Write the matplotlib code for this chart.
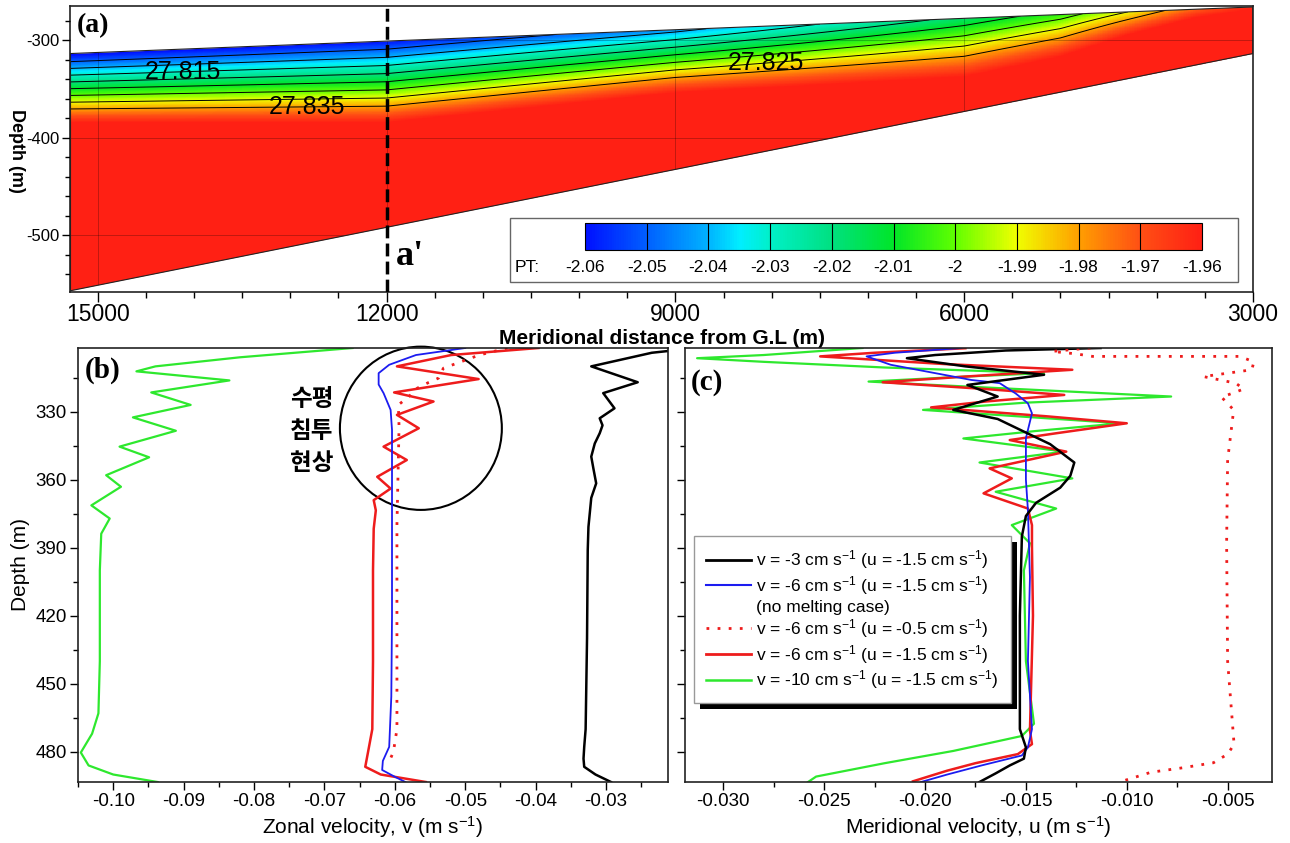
import numpy as np
import matplotlib
matplotlib.use("Agg")
import matplotlib.pyplot as plt
from matplotlib.colors import LinearSegmentedColormap, Normalize
from matplotlib.cm import ScalarMappable
from matplotlib.patches import Polygon, Rectangle, Ellipse
from matplotlib.lines import Line2D
from matplotlib.transforms import IdentityTransform
from matplotlib.ticker import MultipleLocator, FormatStrFormatter

plt.rcParams['font.family'] = ['Liberation Sans', 'DejaVu Sans']
plt.rcParams['axes.unicode_minus'] = False
plt.rcParams['mathtext.default'] = 'regular'

# ---------------- data: panel (a) ----------------
ice_x = [3000, 15284]          # along-section distance (m), increasing
ice_top = [-266.0, -313.7]     # ice shelf base
ice_bed = [-313.7, -556.7]     # sea floor

knot_x = [3000, 3600, 4300, 5000, 6000, 9000, 12000, 15284]
knot_ttop = [-1.962, -1.972, -1.990, -2.005, -2.017, -2.043, -2.060, -2.062]
knot_h = [4, 10, 25, 45, 62, 66, 85, 72]
pt_warm = -1.958

pt_levels = [-2.06, -2.05, -2.04, -2.03, -2.02, -2.01, -2.00, -1.99, -1.98, -1.97, -1.96]
line_levels = [-2.05, -2.04, -2.03, -2.02, -2.01, -2.00, -1.99, -1.98]
dens_text = ['27.815', '27.835', '27.825']
dens_x = [14121, 12830, 8064]
dens_z = [-332.5, -368.4, -323.9]

# ---------------- data: panel (b) zonal velocity ----------------
b_black_d = [303, 304, 310, 317, 321.8, 328.5, 332.9, 336, 339.5, 344, 349.8, 355, 361.6, 368,
             380.8, 391, 430, 470, 477.8, 483, 486.6, 490, 493.3]
b_black_v = [-0.0205, -0.0235, -0.0321, -0.0255, -0.0304, -0.0288, -0.0309, -0.0305, -0.0309,
             -0.0316, -0.0321, -0.0318, -0.0314, -0.0321, -0.0325, -0.0326, -0.0327, -0.0329,
             -0.0331, -0.0332, -0.0331, -0.0315, -0.0293]
b_blue_d = [301.9, 305, 309.3, 313, 318, 321.8, 329.2, 338, 367, 420, 455.6, 477.8, 484, 488, 491, 493.3]
b_blue_v = [-0.0500, -0.0570, -0.0608, -0.0623, -0.0623, -0.0616, -0.0606, -0.0604, -0.0604, -0.0604,
            -0.0605, -0.0608, -0.0617, -0.0618, -0.0600, -0.0585]
b_dot_d = [301.9, 305, 310.8, 315.2, 317.1, 319.6, 323.3, 327, 336.6, 380, 440, 470, 480, 485]
b_dot_v = [-0.0440, -0.0480, -0.0531, -0.0538, -0.0552, -0.0568, -0.0580, -0.0595, -0.0594, -0.0597,
           -0.0597, -0.0597, -0.0602, -0.0609]
b_red_d = [301.9, 305, 310, 315.6, 321.5, 325.5, 331.4, 337.3, 345.4, 351.3, 358.7, 363.9, 369, 373.5,
           381.6, 400, 440, 470, 480, 486.6, 490, 493.3]
b_red_v = [-0.0396, -0.0520, -0.0597, -0.0481, -0.0601, -0.0545, -0.0597, -0.0566, -0.0616, -0.0583,
           -0.0625, -0.0606, -0.0630, -0.0627, -0.0630, -0.0631, -0.0631, -0.0632, -0.0638, -0.0642,
           -0.0620, -0.0556]
b_green_d = [301.9, 306, 310, 312.2, 316.2, 321.5, 327, 332.5, 338.4, 345.4, 350.1, 358, 363.1, 371.3,
             377.1, 383.8, 400, 440, 463, 472, 480.3, 486, 490, 493.3]
b_green_v = [-0.0660, -0.0820, -0.0940, -0.0967, -0.0835, -0.0946, -0.0890, -0.0972, -0.0911, -0.0991,
             -0.0949, -0.1010, -0.0989, -0.1031, -0.1005, -0.1017, -0.1019, -0.1019, -0.1021, -0.1030,
             -0.1046, -0.1035, -0.1000, -0.0937]

# ---------------- data: panel (c) meridional velocity ----------------
c_black_d = [301.9, 303, 305, 306.4, 310, 313.7, 318.2, 323.3, 329.2, 333.2, 339.2, 344.3, 352.4, 358.3,
             363.5, 370.2, 376, 385, 420, 470, 478, 483, 486, 489.5, 493.3]
c_black_u = [-0.0113, -0.0160, -0.0195, -0.0209, -0.0180, -0.0141, -0.0179, -0.0164, -0.0186, -0.0164,
             -0.0150, -0.0138, -0.0126, -0.0128, -0.0133, -0.0145, -0.0150, -0.0152, -0.0153, -0.0153,
             -0.0150, -0.0151, -0.0158, -0.0165, -0.0173]
c_blue_d = [301.9, 304, 305.6, 309.3, 316, 317.4, 322, 326.3, 330.7, 341.7, 360, 373.5, 403, 440, 470,
            478, 481.6, 486, 490, 493.3]
c_blue_u = [-0.0182, -0.0215, -0.0229, -0.0217, -0.0177, -0.0163, -0.0155, -0.0149, -0.0147, -0.0150,
            -0.0150, -0.0149, -0.0148, -0.0149, -0.0147, -0.0149, -0.0152, -0.0172, -0.0189, -0.0202]
c_dot_d = [301.9, 303.4, 304.5, 305.6, 305.6, 305.6, 308, 311.5, 314.5, 317.4, 320, 323.6, 329.2, 351.3,
           388, 440, 476.7, 481, 484.8, 487, 489, 492.6]
c_dot_u = [-0.0118, -0.0137, -0.0125, -0.0117, -0.0080, -0.0044, -0.0037, -0.0038, -0.0062, -0.0046,
           -0.0042, -0.0053, -0.0047, -0.0050, -0.00505, -0.0050, -0.00468, -0.0050, -0.0057, -0.0072,
           -0.0088, -0.0101]
c_red_d = [302, 304, 305.6, 309, 311.5, 314.5, 317, 320, 322.6, 325.5, 328.1, 332, 335.1, 339.5, 342.5,
           347.6, 355, 359.4, 366, 372.7, 380, 389.4, 420, 470.6, 476.6, 481, 485, 488.3, 493]
c_red_u = [-0.0180, -0.0225, -0.0252, -0.0190, -0.0127, -0.0180, -0.0221, -0.0170, -0.0131, -0.0170,
           -0.0197, -0.0140, -0.0100, -0.0135, -0.0158, -0.0130, -0.0168, -0.0157, -0.0171, -0.0149,
           -0.0147, -0.0147, -0.01465, -0.0148, -0.0147, -0.0154, -0.0175, -0.0189, -0.0206]
c_green_d = [301.9, 305, 306.4, 308, 310.5, 313, 314.5, 316.7, 318, 323.3, 326, 329.2, 335.1, 338.5,
             341.8, 347.6, 352.4, 359.4, 365.3, 372.7, 380, 388, 400, 440, 467.6, 473, 479.6, 485, 490.9,
             493.3]
c_green_u = [-0.0231, -0.0280, -0.0313, -0.0280, -0.0220, -0.0141, -0.0180, -0.0228, -0.0200, -0.0078,
             -0.0150, -0.0201, -0.0103, -0.0145, -0.0181, -0.0131, -0.0173, -0.0127, -0.0165, -0.0135,
             -0.0157, -0.0148, -0.0151, -0.0150, -0.0146, -0.0152, -0.0186, -0.0220, -0.0254, -0.0258]

legend_labels = [r'v = -3 cm s$^{-1}$ (u = -1.5 cm s$^{-1}$)',
                 r'v = -6 cm s$^{-1}$ (u = -1.5 cm s$^{-1}$)',
                 '(no melting case)',
                 r'v = -6 cm s$^{-1}$ (u = -0.5 cm s$^{-1}$)',
                 r'v = -6 cm s$^{-1}$ (u = -1.5 cm s$^{-1}$)',
                 r'v = -10 cm s$^{-1}$ (u = -1.5 cm s$^{-1}$)']

GREEN = '#2ee82e'
RED = '#ee1c1c'
BLUE = '#1c1cf0'
serif = ['Liberation Serif', 'DejaVu Serif']

fig = plt.figure(figsize=(12.9, 8.43), dpi=100)
ax_a = fig.add_axes([0.05465, 0.65362, 0.91667, 0.33927])
ax_b = fig.add_axes([0.06047, 0.07236, 0.45736, 0.51483])
ax_c = fig.add_axes([0.53101, 0.07236, 0.45504, 0.51483])

# ---------------- panel (a) ----------------
cmap = LinearSegmentedColormap.from_list('pt', [
    (0.0, '#0010ff'), (0.1, '#0060ff'), (0.2, '#00b4ff'), (0.25, '#00eeff'),
    (0.3, '#00f0c8'), (0.4, '#00e080'), (0.5, '#00e628'), (0.6, '#60ff00'),
    (0.7, '#f0ff00'), (0.8, '#ffa000'), (0.9, '#ff5014'), (1.0, '#ff2014')])
norm = Normalize(vmin=-2.06, vmax=-1.96)

xg = np.linspace(3000, 15284, 700)
zg = np.linspace(-560, -262, 500)
X, Z = np.meshgrid(xg, zg)
ztop = np.interp(X, ice_x, ice_top)
zbot = np.interp(X, ice_x, ice_bed)
ttop = np.interp(X, knot_x, knot_ttop)
hh = np.interp(X, knot_x, knot_h)
s = np.clip((ztop - Z) / hh, 0, 1)
PT = ttop + (pt_warm - ttop) * s
PT = np.ma.masked_where((Z > ztop + 1) | (Z < zbot - 1), PT)

dom = Polygon([(ice_x[0], ice_top[0]), (ice_x[1], ice_top[1]),
               (ice_x[1], ice_bed[1]), (ice_x[0], ice_bed[0])],
              closed=True, fill=False, edgecolor='#222222', lw=0.8, zorder=3)
ax_a.add_patch(dom)
mesh = ax_a.pcolormesh(X, Z, PT, cmap=cmap, norm=norm, shading='auto', zorder=1)
mesh.set_clip_path(dom)
cs = ax_a.contour(X, Z, PT, levels=line_levels, colors='k', linewidths=0.7,
                  linestyles='solid', zorder=2)
cs.set_clip_path(dom)

ax_a.set_xlim(15284, 3000)
ax_a.set_ylim(-558, -265)
ax_a.xaxis.set_major_locator(MultipleLocator(3000))
ax_a.xaxis.set_minor_locator(MultipleLocator(500))
ax_a.xaxis.set_major_formatter(FormatStrFormatter('%d'))
ax_a.yaxis.set_major_locator(MultipleLocator(100))
ax_a.yaxis.set_minor_locator(MultipleLocator(20))
ax_a.yaxis.set_major_formatter(FormatStrFormatter('%d'))
ax_a.tick_params(axis='x', which='major', direction='out', length=7, width=1, labelsize=16.5, pad=1)
ax_a.tick_params(axis='x', which='minor', direction='out', length=4, width=1)
ax_a.tick_params(axis='y', which='major', direction='out', length=6, width=1, labelsize=12, pad=2)
ax_a.tick_params(axis='y', which='minor', direction='out', length=3.5, width=1)
ax_a.grid(True, which='major', color='k', lw=0.5, alpha=0.35, zorder=2)
for gl in ax_a.get_xgridlines() + ax_a.get_ygridlines():
    gl.set_clip_path(dom)
ax_a.set_axisbelow(False)
ax_a.set_xlabel('Meridional distance from G.L (m)', fontsize=15, fontweight='bold', labelpad=2)
fig.text(16 / 1290, 1 - 151 / 843, 'Depth (m)', rotation=270, ha='center', va='center',
         fontsize=13, fontweight='bold')

ax_a.axvline(12000, color='k', lw=2.5, ls=(0, (3.7, 1.5)), zorder=4)
ax_a.text(11903, -521.5, "a'", fontsize=26, fontweight='bold', family=serif, ha='left', va='center', zorder=5)
ax_a.text(0.005, 0.975, '(a)', transform=ax_a.transAxes, fontsize=20, fontweight='bold',
          family=serif, ha='left', va='top', zorder=5)
for t, x, z in zip(dens_text, dens_x, dens_z):
    ax_a.text(x, z, t, fontsize=18, ha='center', va='center', zorder=5)

# colour-bar legend box
ax_a.add_patch(Rectangle((0.3717, 0.035), 0.6156, 0.2237, transform=ax_a.transAxes,
                         facecolor='white', edgecolor='#666666', lw=1, zorder=6))
cax = fig.add_axes([585 / 1290, 1 - 250 / 843, 617 / 1290, 27 / 843])
cb = fig.colorbar(ScalarMappable(norm=norm, cmap=cmap), cax=cax, orientation='horizontal')
cb.set_ticks(pt_levels)
cb.ax.set_xticklabels(['%g' % v for v in pt_levels])
cb.outline.set_linewidth(0.8)
cax.tick_params(length=0, labelsize=12.5, pad=7)
for lv in pt_levels[1:-1]:
    cax.axvline(lv, color='k', lw=0.8)
fig.text(527 / 1290, 1 - 268 / 843, 'PT:', ha='center', va='center', fontsize=12.5)

# ---------------- panel (b) ----------------
ax_b.plot(b_green_v, b_green_d, color=GREEN, lw=1.6)
ax_b.plot(b_red_v, b_red_d, color=RED, lw=1.8)
ax_b.plot(b_blue_v, b_blue_d, color=BLUE, lw=1.3)
ax_b.plot(b_dot_v, b_dot_d, color=RED, lw=2, ls=(0, (1, 3)))
ax_b.plot(b_black_v, b_black_d, color='k', lw=1.8)
ax_b.set_xlim(-0.105, -0.0212)
ax_b.set_ylim(493.3, 301.9)
ax_b.xaxis.set_major_locator(MultipleLocator(0.01))
ax_b.xaxis.set_minor_locator(MultipleLocator(0.005))
ax_b.xaxis.set_major_formatter(FormatStrFormatter('%.2f'))
ax_b.yaxis.set_major_locator(MultipleLocator(30))
ax_b.yaxis.set_minor_locator(MultipleLocator(15))
ax_b.set_xlabel(r'Zonal velocity, v (m s$^{-1}$)', fontsize=15, labelpad=3)
ax_b.set_ylabel('Depth (m)', fontsize=15, labelpad=4)
ax_b.add_patch(Ellipse((-0.0563, 337.3), 0.0230, 72, fill=False, lw=1.5, color='k', clip_on=False))
for txt, d in zip(['수평', '침투', '현상'], [324.4, 338.5, 352.4]):
    ax_b.text(-0.0718, d, txt, fontsize=17, fontweight='bold', ha='center', va='center',
              family=['Noto Sans CJK KR', 'DejaVu Sans'])
ax_b.text(0.011, 0.979, '(b)', transform=ax_b.transAxes, fontsize=21, fontweight='bold',
          family=serif, ha='left', va='top')

# ---------------- panel (c) ----------------
ax_c.plot(c_green_u, c_green_d, color=GREEN, lw=1.6)
ax_c.plot(c_red_u, c_red_d, color=RED, lw=1.8)
ax_c.plot(c_blue_u, c_blue_d, color=BLUE, lw=1.3)
ax_c.plot(c_black_u, c_black_d, color='k', lw=1.8)
ax_c.plot(c_dot_u, c_dot_d, color=RED, lw=2, ls=(0, (1, 3)))
ax_c.set_xlim(-0.0319, -0.0028)
ax_c.set_ylim(493.3, 301.9)
ax_c.xaxis.set_major_locator(MultipleLocator(0.005))
ax_c.xaxis.set_minor_locator(MultipleLocator(0.0025))
ax_c.xaxis.set_major_formatter(FormatStrFormatter('%.3f'))
ax_c.yaxis.set_major_locator(MultipleLocator(30))
ax_c.yaxis.set_minor_locator(MultipleLocator(15))
ax_c.set_yticklabels([])
ax_c.set_xlabel(r'Meridional velocity, u (m s$^{-1}$)', fontsize=15, labelpad=3)
ax_c.text(0.01, 0.951, '(c)', transform=ax_c.transAxes, fontsize=21, fontweight='bold',
          family=serif, ha='left', va='top')

for ax in (ax_b, ax_c):
    ax.tick_params(which='major', direction='out', length=6, width=1, labelsize=13.5, pad=2)
    ax.tick_params(which='minor', direction='out', length=3.5, width=1)
for ax in (ax_a, ax_b, ax_c):
    for sp in ax.spines.values():
        sp.set_linewidth(1.2)
        sp.set_color('#222222')

handles = [Line2D([], [], color='k', lw=2),
           Line2D([], [], color=BLUE, lw=1.5),
           Line2D([], [], color='none'),
           Line2D([], [], color=RED, lw=2, ls=(0, (1, 3))),
           Line2D([], [], color=RED, lw=2),
           Line2D([], [], color=GREEN, lw=1.8)]
leg = ax_c.legend(handles, legend_labels, loc='upper left', bbox_to_anchor=(0.0153, 0.566),
                  borderaxespad=0, fontsize=12.5, handlelength=2.6, handletextpad=0.3,
                  labelspacing=0.15, borderpad=0.7, fancybox=False, edgecolor='#999999',
                  framealpha=1)
leg.get_frame().set_linewidth(1)

fig.canvas.draw()
bb = leg.get_window_extent()
shadow = Rectangle((bb.x0 + 6, bb.y0 - 6), bb.width, bb.height, transform=IdentityTransform(),
                   facecolor='k', edgecolor='none', zorder=4.5, clip_on=False)
ax_c.add_patch(shadow)

fig.savefig('out.png', dpi=100)
